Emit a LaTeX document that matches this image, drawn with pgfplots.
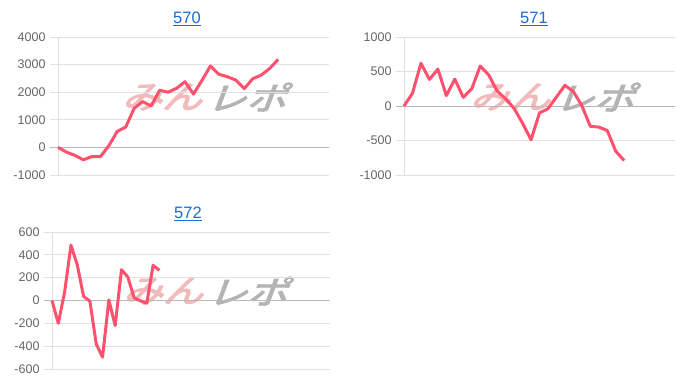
\documentclass[border=0pt]{standalone}
\usepackage{fontspec}
\setmainfont{Liberation Sans}
\newfontfamily\cjk[FakeSlant=0.3, FakeBold=3]{Noto Sans CJK JP}
\usepackage{pgfplots}
\pgfplotsset{compat=1.18}
\definecolor{linec}{RGB}{255,80,110}
\definecolor{gridc}{RGB}{225,225,225}
\definecolor{zeroc}{RGB}{185,185,185}
\definecolor{tickc}{RGB}{102,102,102}
\definecolor{titlec}{RGB}{26,108,214}
\definecolor{wmred}{RGB}{242,186,186}
\definecolor{wmgray}{RGB}{180,180,180}
\pgfplotsset{
  mini/.style={
    scale only axis,
    anchor=south west,
    axis x line*=bottom,
    axis y line*=left,
    axis line style={gridc, line width=1pt, -},
    xtick=\empty,
    ymajorgrids,
    grid style={gridc, line width=1pt},
    tick align=outside,
    major tick length=8pt,
    tick style={gridc, line width=1pt},
    yticklabel style={font=\fontsize{12.5}{14}\selectfont, text=tickc, xshift=-1pt},
    extra y ticks={0},
    extra y tick labels={},
    extra y tick style={grid style={zeroc, line width=1pt}, major tick length=8pt, tick style={zeroc}},
    clip=false,
  }
}
\newcommand{\wm}[2]{%
  \node[anchor=east, inner sep=0pt, text=wmred, xscale=1.25] at (#1pt-1pt,#2pt) {\fontsize{32}{32}\selectfont\cjk みん};
  \node[anchor=west, inner sep=0pt, text=wmgray, xscale=1.25] at (#1pt+3pt,#2pt) {\fontsize{32}{32}\selectfont\cjk レポ};
}
\begin{document}
\begin{tikzpicture}
\fill[white] (0pt,0pt) rectangle (700pt,384pt);
\wm{203}{287}
\wm{551}{287}
\wm{204}{93}
\node[text=titlec, font=\fontsize{16.5}{18}\selectfont] at (187pt,365pt) {\underline{570}};
\node[text=titlec, font=\fontsize{16.5}{18}\selectfont] at (534pt,365pt) {\underline{571}};
\node[text=titlec, font=\fontsize{16.5}{18}\selectfont] at (188pt,170pt) {\underline{572}};
\begin{axis}[mini, at={(58pt,209pt)}, width=271pt, height=138pt,
  xmin=0, xmax=32, ymin=-1000, ymax=4000,
  ytick={-1000,0,1000,2000,3000,4000},
  yticklabels={-1000,0,1000,2000,3000,4000}]
\addplot[color=linec, line width=3pt, line join=round] coordinates {
(0,0)(1,-170)(2,-290)(3,-450)(4,-330)(5,-340)(6,60)(7,580)(8,740)(9,1420)
(10,1660)(11,1500)(12,2070)(13,2000)(14,2140)(15,2380)(16,1930)(17,2430)
(18,2950)(19,2650)(20,2560)(21,2440)(22,2130)(23,2490)(24,2620)(25,2860)(26,3190)};
\end{axis}
\begin{axis}[mini, at={(404pt,209pt)}, width=271pt, height=138pt,
  xmin=0, xmax=32, ymin=-1000, ymax=1000,
  ytick={-1000,-500,0,500,1000},
  yticklabels={-1000,-500,0,500,1000}]
\addplot[color=linec, line width=3pt, line join=round] coordinates {
(0,0)(1,185)(2,620)(3,385)(4,535)(5,150)(6,390)(7,125)(8,250)(9,580)
(10,450)(11,215)(12,105)(13,-35)(14,-250)(15,-490)(16,-100)(17,-40)
(18,130)(19,300)(20,210)(21,5)(22,-295)(23,-305)(24,-355)(25,-655)(26,-790)};
\end{axis}
\begin{axis}[mini, at={(52pt,15pt)}, width=278pt, height=137pt,
  xmin=0, xmax=44, ymin=-600, ymax=600,
  ytick={-600,-400,-200,0,200,400,600},
  yticklabels={-600,-400,-200,0,200,400,600}]
\addplot[color=linec, line width=3pt, line join=round] coordinates {
(0,0)(1,-200)(2,75)(3,485)(4,312)(5,36)(6,-6)(7,-380)(8,-497)(9,5)
(10,-220)(11,270)(12,205)(13,23)(14,-3)(15,-24)(16,308)(17,264)};
\end{axis}
\end{tikzpicture}
\end{document}
